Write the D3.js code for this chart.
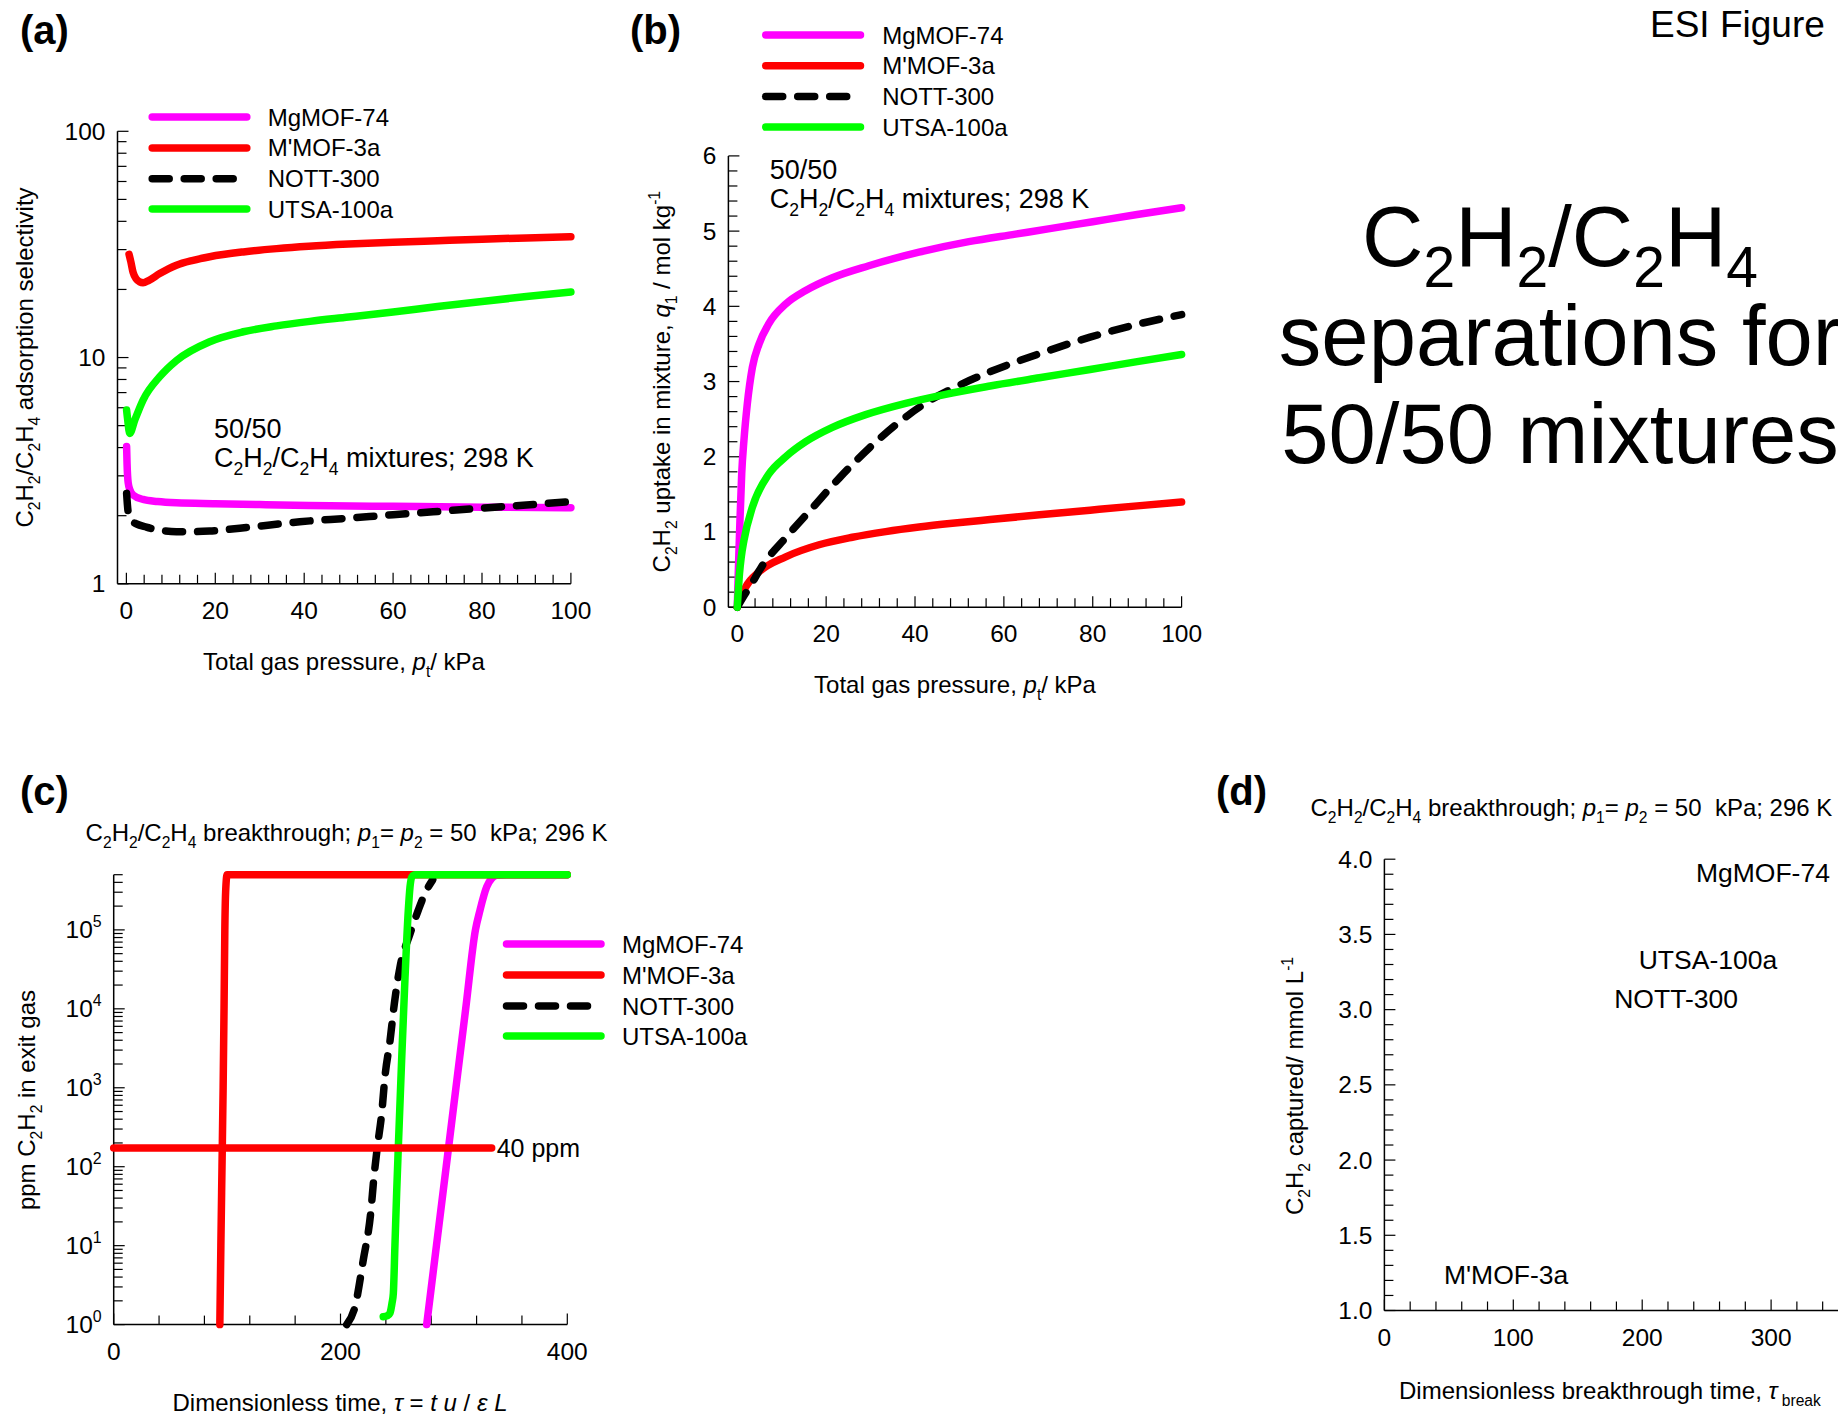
<!DOCTYPE html>
<html><head><meta charset="utf-8">
<script src="https://cdn.jsdelivr.net/npm/d3@7"></script>
<style>body{margin:0;background:#fff}text{white-space:pre}</style>
</head><body>
<script>
// ---------------- DATA ----------------
const materials = ["MgMOF-74", "M'MOF-3a", "NOTT-300", "UTSA-100a"];

// (a) adsorption selectivity vs total pressure (kPa)
const selMgMOF74 = [[0.05,4.04],[0.15,3.4],[0.4,2.8],[0.8,2.6],[1.5,2.47],[3.75,2.36],[7,2.31],[11.25,2.28],[20,2.26],[30,2.24],[41,2.22],[60,2.2],[80,2.18],[100,2.17]];
const selMMOF3a = [[0.6,28.6],[1.0,26.5],[1.5,23.8],[2.25,22.2],[3.0,21.6],[3.75,21.4],[5,21.9],[7.5,23.5],[11.25,25.6],[15,26.9],[18.75,27.9],[26.3,29.3],[33.8,30.3],[41,31.05],[50,31.75],[60,32.35],[70,32.85],[80,33.35],[90,33.8],[100,34.2]];
const selNOTT300 = [[0.05,2.51],[0.4,2.08],[1.2,1.9],[2.25,1.84],[4.5,1.78],[8,1.72],[11.25,1.70],[15,1.70],[18.75,1.71],[25.5,1.76],[32.3,1.82],[39,1.88],[50,1.95],[60,2.02],[69,2.08],[80,2.16],[90,2.23],[100,2.31]];
const selUTSA100a = [[0.05,5.86],[0.3,5.3],[0.75,4.62],[1.9,5.3],[3.75,6.49],[7.5,8.23],[11.25,9.7],[18.75,11.75],[26.3,13.0],[33.8,13.8],[41.3,14.45],[50,15.1],[60,15.9],[70,16.8],[80,17.7],[90,18.6],[100,19.5]];

// (b) C2H2 uptake (mol/kg) vs total pressure (kPa)
const upMgMOF74 = [[0,0],[0.3,0.6],[0.6,1.15],[1.0,1.78],[1.5,2.22],[2.25,2.7],[3.4,3.19],[4.9,3.5],[7.1,3.77],[10.9,4.03],[15.4,4.21],[21.4,4.38],[29.6,4.54],[40.9,4.72],[52.1,4.86],[62.6,4.96],[70,5.03],[80,5.125],[90,5.22],[100,5.31]];
const upMMOF3a = [[0,0],[1.9,0.27],[4.9,0.47],[10.9,0.67],[18.4,0.83],[25.9,0.93],[33.4,1.005],[40.9,1.065],[48.4,1.115],[56.9,1.165],[68,1.228],[79.4,1.29],[90,1.347],[100,1.40]];
const upNOTT300 = [[0,0],[1.5,0.15],[3,0.29],[5.5,0.54],[11,0.93],[16.9,1.32],[23,1.72],[29.6,2.11],[36.4,2.46],[43.1,2.74],[49.9,2.95],[56.9,3.13],[68,3.37],[79.4,3.59],[90,3.76],[100,3.89]];
const upUTSA100a = [[0,0],[0.5,0.45],[0.9,0.67],[1.5,0.89],[3.4,1.33],[7.1,1.77],[10.9,2.0],[15.4,2.2],[21.4,2.39],[28.9,2.56],[37.9,2.71],[46.9,2.83],[56.9,2.94],[68,3.05],[79.4,3.16],[90,3.265],[100,3.36]];

// (c) breakthrough: ppm C2H2 in exit gas vs dimensionless time
const btMgMOF74 = [[276,1],[284.6,10],[293.2,100],[301.8,1000],[310.4,1e4],[319,1e5],[323,1.77e5],[328.9,3.5e5],[333.5,4.5e5],[337.7,4.9e5],[346.5,5e5],[400,5e5]];
const btMMOF3a = [[93.6,1],[94.5,10],[95.5,100],[96.5,1000],[97.3,1e4],[98,1e5],[98.7,3e5],[100,5e5],[400,5e5]];
const btNOTT300 = [[205.5,1],[212.8,1.69],[220.1,6.6],[226.6,25.7],[229.5,74],[232.5,178],[236.3,468],[239.2,1380],[243.7,3980],[247.5,1.17e4],[252.5,3.4e4],[261.3,8.9e4],[268.6,1.78e5],[274.5,2.9e5],[281.3,4.3e5]];
const btUTSA100a = [[237.7,1.26],[241.5,1.3],[243.6,1.4],[245.5,1.9],[246.6,2.5],[248,10],[249.5,46],[251,178],[253.9,2230],[256.9,2.5e4],[259.8,1.77e5],[261.3,3.5e5],[263,4.7e5],[265.7,5e5],[400,5e5]];
const thresholdPpm = 172;
const thresholdTau = [0, 333.3];

// (d) labels placed at (tau_break, captured) coordinates
const dLabels = ["MgMOF-74", "UTSA-100a", "NOTT-300", "M'MOF-3a"];
const dTau = [241.7, 197.3, 178.3, 46.2];
const dCaptured = [3.91, 3.33, 3.07, 1.24];

// tick values
const ticksPressure = d3.range(0, 101, 4);
const labelsPressure = [0, 20, 40, 60, 80, 100];
const ticksUptake = d3.range(0, 30.5, 1).map(v => v / 5);
const labelsUptake = [0, 1, 2, 3, 4, 5, 6];
const ticksTau = d3.range(0, 401, 40);
const labelsTau = [0, 200, 400];
const ticksTauD = d3.range(0, 401, 20);
const labelsTauD = [0, 100, 200, 300, 400];
const ticksCap = d3.range(10, 40.5, 1).map(v => v / 10);
const labelsCap = [1.0, 1.5, 2.0, 2.5, 3.0, 3.5, 4.0];

// ---------------- DRAWING ----------------
const FONT = "'Liberation Sans', Arial, Helvetica, sans-serif";
const W = 1838, H = 1414;
const svg = d3.select('body').append('svg').attr('width', W).attr('height', H)
  .style('font-family', FONT);
svg.append('rect').attr('width', W).attr('height', H).attr('fill', '#fff');

const styles = [
  {c: '#ff00ff'}, {c: '#ff0000'}, {c: '#000000', dash: '17 15'}, {c: '#00ff00'}
];
const LW = 7.5;
const TICKFS = 24.5;

function rich(g, x, y, segs, o) {
  const size = o.size;
  const t = g.append('text').attr('x', x).attr('y', y).attr('font-size', size)
    .attr('text-anchor', o.anchor || 'start').attr('fill', '#000');
  if (o.weight) t.attr('font-weight', o.weight);
  if (o.rotate) t.attr('transform', `rotate(${o.rotate},${x},${y})`);
  const subR = o.subR || 0.65, subS = o.subS || 0.3, supS = o.supS || 0.42;
  let cur = 0;
  segs.forEach(s => {
    if (typeof s === 'string') s = {t: s};
    const target = s.sub ? size * subS : s.sup ? -size * supS : 0;
    const ts = t.append('tspan').attr('dy', target - cur).text(s.t);
    if (s.sub || s.sup) ts.attr('font-size', size * subR);
    if (s.it) ts.attr('font-style', 'italic');
    cur = target;
  });
  return t;
}
const C2H2 = ['C', {t: '2', sub: 1}, 'H', {t: '2', sub: 1}];
const C2H4 = ['C', {t: '2', sub: 1}, 'H', {t: '4', sub: 1}];

function axes(g, x, y, cfg) {
  const xr = x.range(), yr = y.range();
  const X0 = xr[0], Y0 = yr[0], Y1 = yr[1];
  g.append('line').attr('x1', X0).attr('x2', xr[1]).attr('y1', Y0).attr('y2', Y0)
    .attr('stroke', '#000').attr('stroke-width', 1.5);
  g.append('line').attr('x1', X0).attr('x2', X0).attr('y1', Y0).attr('y2', Y1)
    .attr('stroke', '#000').attr('stroke-width', 1.5);
  cfg.xTicks.forEach(v => {
    const major = cfg.xLabels.includes(v);
    g.append('line').attr('x1', x(v)).attr('x2', x(v)).attr('y1', Y0).attr('y2', Y0 - (major ? 11 : 9))
      .attr('stroke', '#000').attr('stroke-width', 1.2);
  });
  cfg.yTicks.forEach(v => {
    const major = cfg.yLabels.some(l => Math.abs(l - v) < 1e-9);
    g.append('line').attr('x1', X0).attr('x2', X0 + (major ? 11 : 9)).attr('y1', y(v)).attr('y2', y(v))
      .attr('stroke', '#000').attr('stroke-width', 1.2);
  });
  cfg.xLabels.forEach(v => {
    g.append('text').attr('x', x(v)).attr('y', Y0 + 35).attr('text-anchor', 'middle')
      .attr('font-size', TICKFS).text(cfg.xFmt ? cfg.xFmt(v) : v);
  });
  cfg.yLabels.forEach(v => {
    if (cfg.yRich) {
      rich(g, X0 - 12, y(v) + 8.5, cfg.yRich(v), {size: TICKFS, anchor: 'end', supS: 0.45});
    } else {
      g.append('text').attr('x', X0 - 12).attr('y', y(v) + 8.5).attr('text-anchor', 'end')
        .attr('font-size', TICKFS).text(cfg.yFmt ? cfg.yFmt(v) : v);
    }
  });
}

function series(g, x, y, data, st) {
  g.append('path').datum(data)
    .attr('d', d3.line().x(d => x(d[0])).y(d => y(d[1])).curve(d3.curveMonotoneX))
    .attr('fill', 'none').attr('stroke', st.c).attr('stroke-width', LW)
    .attr('stroke-linecap', 'round').attr('stroke-linejoin', 'round')
    .attr('stroke-dasharray', st.dash || null);
}

function legend(g, x1, x2, ys, lx) {
  materials.forEach((m, i) => {
    g.append('line').attr('x1', x1).attr('x2', x2).attr('y1', ys[i]).attr('y2', ys[i])
      .attr('stroke', styles[i].c).attr('stroke-width', LW).attr('stroke-linecap', 'round')
      .attr('stroke-dasharray', styles[i].dash || null);
    g.append('text').attr('x', lx).attr('y', ys[i] + 8.5).attr('font-size', 24).text(m);
  });
}

function logTicks(lo, hi) {
  const out = [];
  for (let e = Math.floor(Math.log10(lo)); e <= Math.ceil(Math.log10(hi)); e++) {
    for (let k = 1; k <= 9; k++) {
      const v = k * Math.pow(10, e);
      if (v >= lo * 0.999 && v <= hi * 1.001) out.push(v);
    }
  }
  return out;
}

// ---- panel (a)
{
  const g = svg.append('g');
  const x = d3.scaleLinear([-2, 100], [117.5, 570.9]);
  const y = d3.scaleLog([1, 100], [583.8, 131.3]);
  axes(g, x, y, {xTicks: ticksPressure, xLabels: labelsPressure,
    yTicks: logTicks(1, 100), yLabels: [1, 10, 100]});
  [selMgMOF74, selMMOF3a, selNOTT300, selUTSA100a].forEach((d, i) => series(g, x, y, d, styles[i]));
  legend(g, 152.2, 246.8, [117.0, 147.9, 178.7, 209.1], 267.7);
  g.append('text').attr('x', 214).attr('y', 438).attr('font-size', 27).text('50/50');
  rich(g, 214, 467, [...C2H2, '/', ...C2H4, ' mixtures; 298 K'], {size: 27});
  rich(g, 344, 670, ['Total gas pressure, ', {t: 'p', it: 1}, {t: 't', sub: 1}, '/ kPa'], {size: 24, anchor: 'middle'});
  rich(g, 32.6, 357.5, [...C2H2, '/', ...C2H4, ' adsorption selectivity'], {size: 24, anchor: 'middle', rotate: -90});
  g.append('text').attr('x', 20).attr('y', 44).attr('font-size', 40).attr('font-weight', 'bold').text('(a)');
}

// ---- panel (b)
{
  const g = svg.append('g');
  const x = d3.scaleLinear([-2, 100], [728.4, 1181.6]);
  const y = d3.scaleLinear([0, 6], [607.2, 155.9]);
  axes(g, x, y, {xTicks: ticksPressure, xLabels: labelsPressure,
    yTicks: ticksUptake, yLabels: labelsUptake});
  [upMgMOF74, upMMOF3a, upNOTT300, upUTSA100a].forEach((d, i) => series(g, x, y, d, styles[i]));
  legend(g, 765.7, 860.5, [35.0, 65.7, 96.4, 127.1], 882.2);
  g.append('text').attr('x', 769.7).attr('y', 179).attr('font-size', 27).text('50/50');
  rich(g, 769.7, 208, [...C2H2, '/', ...C2H4, ' mixtures; 298 K'], {size: 27});
  rich(g, 955, 692.7, ['Total gas pressure, ', {t: 'p', it: 1}, {t: 't', sub: 1}, '/ kPa'], {size: 24, anchor: 'middle'});
  rich(g, 669.6, 381.7, [...C2H2, ' uptake in mixture, ', {t: 'q', it: 1}, {t: '1', sub: 1}, ' / mol kg', {t: '-1', sup: 1}],
    {size: 24, anchor: 'middle', rotate: -90});
  g.append('text').attr('x', 630).attr('y', 44).attr('font-size', 40).attr('font-weight', 'bold').text('(b)');
}

// ---- headline text
{
  const g = svg.append('g');
  g.append('text').attr('x', 1650).attr('y', 37).attr('font-size', 37).text('ESI Figure');
  rich(g, 1560, 266, [...C2H2, '/', ...C2H4], {size: 85, anchor: 'middle', subR: 0.67, subS: 0.25});
  g.append('text').attr('x', 1560).attr('y', 365).attr('font-size', 85).attr('text-anchor', 'middle').text('separations for');
  g.append('text').attr('x', 1560).attr('y', 463).attr('font-size', 85).attr('text-anchor', 'middle').text('50/50 mixtures');
}

const btTitle = [...C2H2, '/', ...C2H4, ' breakthrough; ', {t: 'p', it: 1}, {t: '1', sub: 1}, '= ',
  {t: 'p', it: 1}, {t: '2', sub: 1}, ' = 50  kPa; 296 K'];

// ---- panel (c)
{
  const g = svg.append('g');
  const x = d3.scaleLinear([0, 400], [113.7, 567.3]);
  const y = d3.scaleLog([1, 5e5], [1324.6, 874.7]);
  axes(g, x, y, {xTicks: ticksTau, xLabels: labelsTau,
    yTicks: logTicks(1, 5e5), yLabels: [1, 10, 100, 1000, 1e4, 1e5],
    yRich: v => ['10', {t: String(Math.round(Math.log10(v))), sup: 1}]});
  [btMgMOF74, btMMOF3a, btNOTT300, btUTSA100a].forEach((d, i) => series(g, x, y, d, styles[i]));
  g.append('line').attr('x1', x(thresholdTau[0])).attr('x2', x(thresholdTau[1]))
    .attr('y1', y(thresholdPpm)).attr('y2', y(thresholdPpm))
    .attr('stroke', '#ff0000').attr('stroke-width', LW).attr('stroke-linecap', 'round');
  g.append('text').attr('x', x(thresholdTau[1]) + 5).attr('y', y(thresholdPpm) + 9).attr('font-size', 25).text('40 ppm');
  legend(g, 506.5, 601, [944, 975, 1006, 1036], 622);
  rich(g, 85.6, 841, btTitle, {size: 24});
  rich(g, 340, 1411, ['Dimensionless time, ', {t: 'τ', it: 1}, ' = ', {t: 't', it: 1}, ' ', {t: 'u', it: 1}, ' / ',
    {t: 'ε', it: 1}, ' ', {t: 'L', it: 1}], {size: 24, anchor: 'middle'});
  rich(g, 35, 1100, ['ppm ', ...C2H2, ' in exit gas'], {size: 24, anchor: 'middle', rotate: -90});
  g.append('text').attr('x', 20).attr('y', 805).attr('font-size', 40).attr('font-weight', 'bold').text('(c)');
}

// ---- panel (d)
{
  const g = svg.append('g');
  const x = d3.scaleLinear([0, 400], [1384.4, 1900]);
  const y = d3.scaleLinear([1, 4], [1310.5, 859.2]);
  axes(g, x, y, {xTicks: ticksTauD, xLabels: labelsTauD,
    yTicks: ticksCap, yLabels: labelsCap, yFmt: d3.format('.1f')});
  dLabels.forEach((l, i) => {
    g.append('text').attr('x', x(dTau[i])).attr('y', y(dCaptured[i])).attr('dy', '0.35em')
      .attr('font-size', 26.5).text(l);
  });
  rich(g, 1310.5, 816, btTitle, {size: 24});
  rich(g, 1399, 1399, ['Dimensionless breakthrough time, ', {t: 'τ', it: 1}, {t: ' break', sub: 1}], {size: 24});
  rich(g, 1302.6, 1086, [...C2H2, ' captured/ mmol L', {t: '-1', sup: 1}], {size: 24, anchor: 'middle', rotate: -90});
  g.append('text').attr('x', 1216).attr('y', 805).attr('font-size', 40).attr('font-weight', 'bold').text('(d)');
}
</script>
</body></html>
